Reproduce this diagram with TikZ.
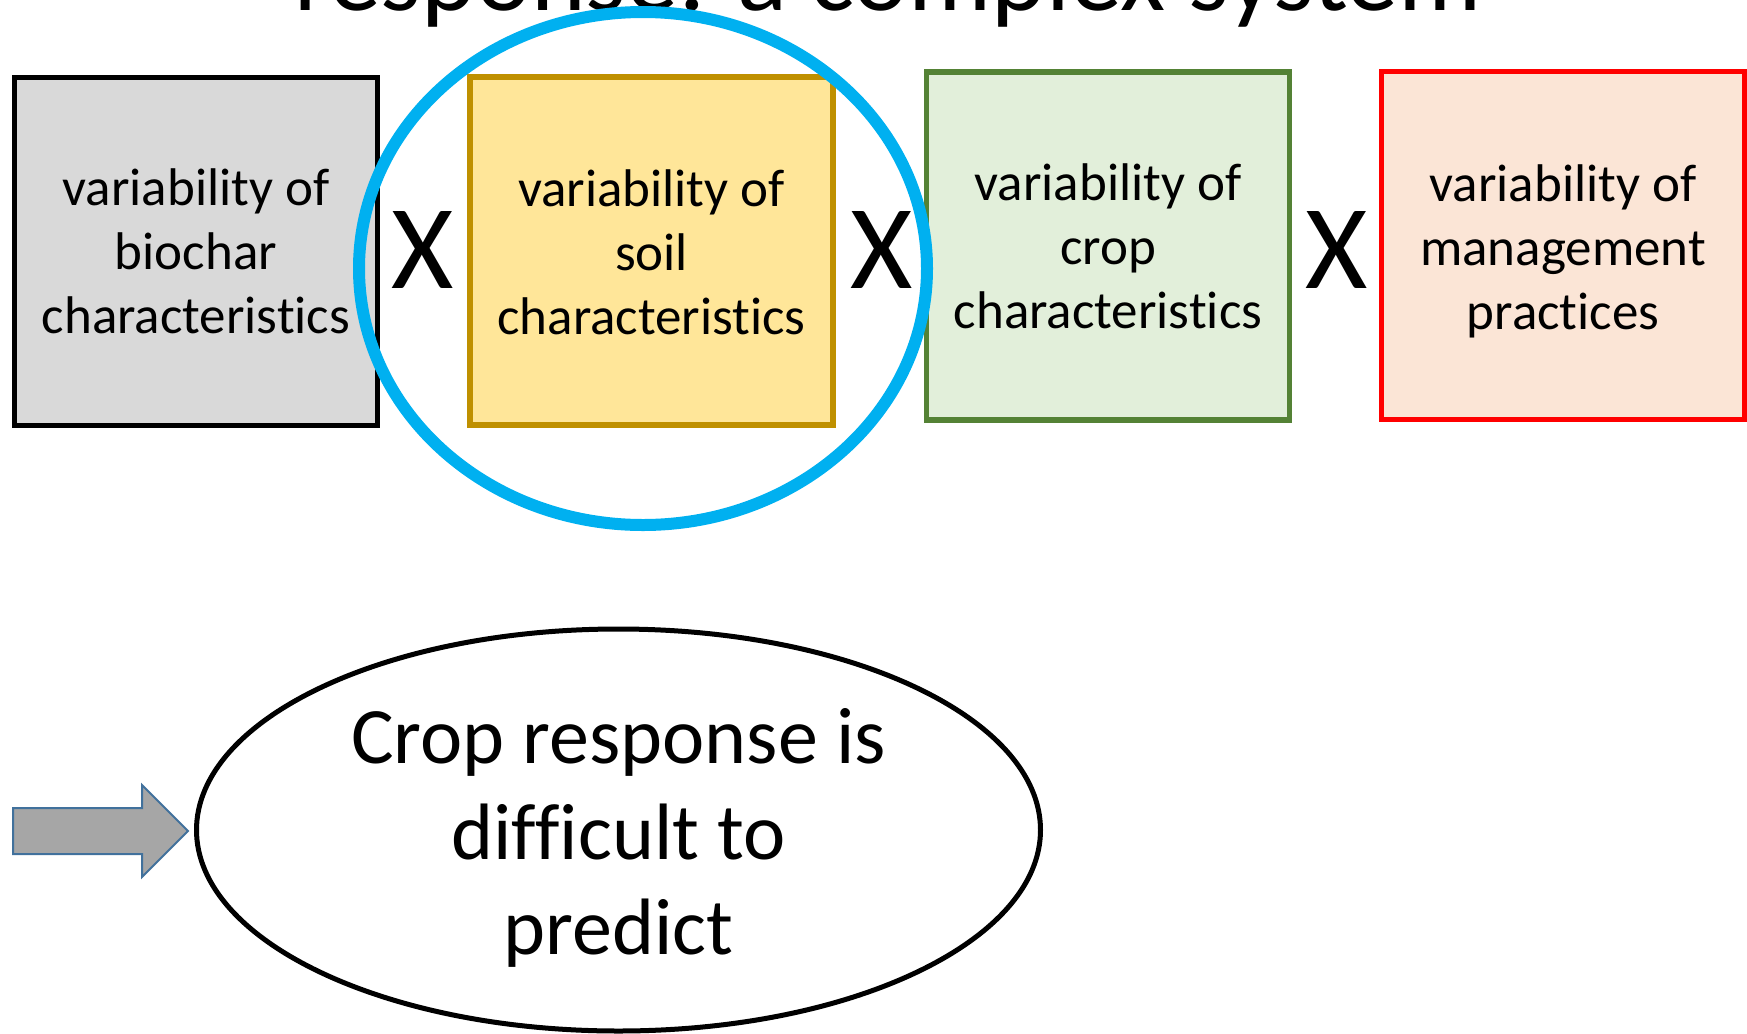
\documentclass[tikz,border=0pt]{standalone}
\usepackage{fontspec}
\setmainfont{Carlito}[Ligatures=NoCommon]
\usetikzlibrary{shapes.geometric}

\definecolor{biofill}{HTML}{D9D9D9}
\definecolor{soilfill}{HTML}{FFE699}
\definecolor{soildraw}{HTML}{BF9000}
\definecolor{cropfill}{HTML}{E2EFDA}
\definecolor{cropdraw}{HTML}{548235}
\definecolor{mgmtfill}{HTML}{FBE5D6}
\definecolor{mgmtdraw}{HTML}{FF0000}
\definecolor{ringblue}{HTML}{00B0F0}
\definecolor{arrowfill}{HTML}{A6A6A6}
\definecolor{arrowdraw}{HTML}{41719C}

\tikzset{
  factorbox/.style={rectangle, draw, line width=2.6pt, inner sep=0pt,
    minimum width=181.5pt, minimum height=174pt},
  factortext/.style={align=center, inner sep=0pt,
    font=\fontsize{26.5}{32}\selectfont},
  timesmark/.style={inner sep=0pt, font=\fontsize{60}{72}\selectfont},
  outcome/.style={ellipse, draw, line width=2.5pt, inner sep=0pt,
    minimum width=422pt, minimum height=201pt},
  outcometext/.style={align=center, inner sep=0pt,
    font=\fontsize{40}{47.75}\selectfont},
}

\begin{document}
\begin{tikzpicture}[x=0.5pt, y=-0.5pt]
\useasboundingbox (0,0) rectangle (1747,1034);

% heading, running off the top edge
\node[anchor=base, inner sep=0pt, font=\fontsize{52}{62}\selectfont]
  (heading) at (888,10) {response: a complex system};

% the four interacting factors
\node[factorbox, fill=biofill, draw=black] (bio) at (196,251.5) {};
\node[factorbox, fill=soilfill, draw=soildraw] (soil) at (651.5,251) {};
\node[factorbox, fill=cropfill, draw=cropdraw] (crop) at (1108,246) {};
\node[factorbox, fill=mgmtfill, draw=mgmtdraw] (mgmt) at (1563,245.5) {};

\node[factortext] (biotext) at (196,251) {variability of\\biochar\\characteristics};
\node[factortext] (soiltext) at (651.5,252) {variability of\\soil\\characteristics};
\node[factortext] (croptext) at (1108,246) {variability of\\crop\\characteristics};
\node[factortext] (mgmttext) at (1563,251.5) {variability of\\management\\practices};

\node[timesmark] (x1) at (423,250) {X};
\node[timesmark] (x2) at (882,250) {X};
\node[timesmark] (x3) at (1337,250) {X};

% ring highlighting the soil factor
\node[ellipse, draw=ringblue, line width=6pt, inner sep=0pt,
  minimum width=284pt, minimum height=256.5pt] (ring) at (643,268.5) {};

% outcome
\node[outcome] (result) at (618.5,830) {};
\node[outcometext] (resulttext) at (618.5,838) {Crop response is\\difficult to\\predict};

% block arrow pointing at the outcome
\draw[fill=arrowfill, draw=arrowdraw, line width=1pt, line join=miter]
  (13,808) -- (142,808) -- (142,785) -- (188,831) -- (142,877)
  -- (142,854) -- (13,854) -- cycle;
\end{tikzpicture}
\end{document}
